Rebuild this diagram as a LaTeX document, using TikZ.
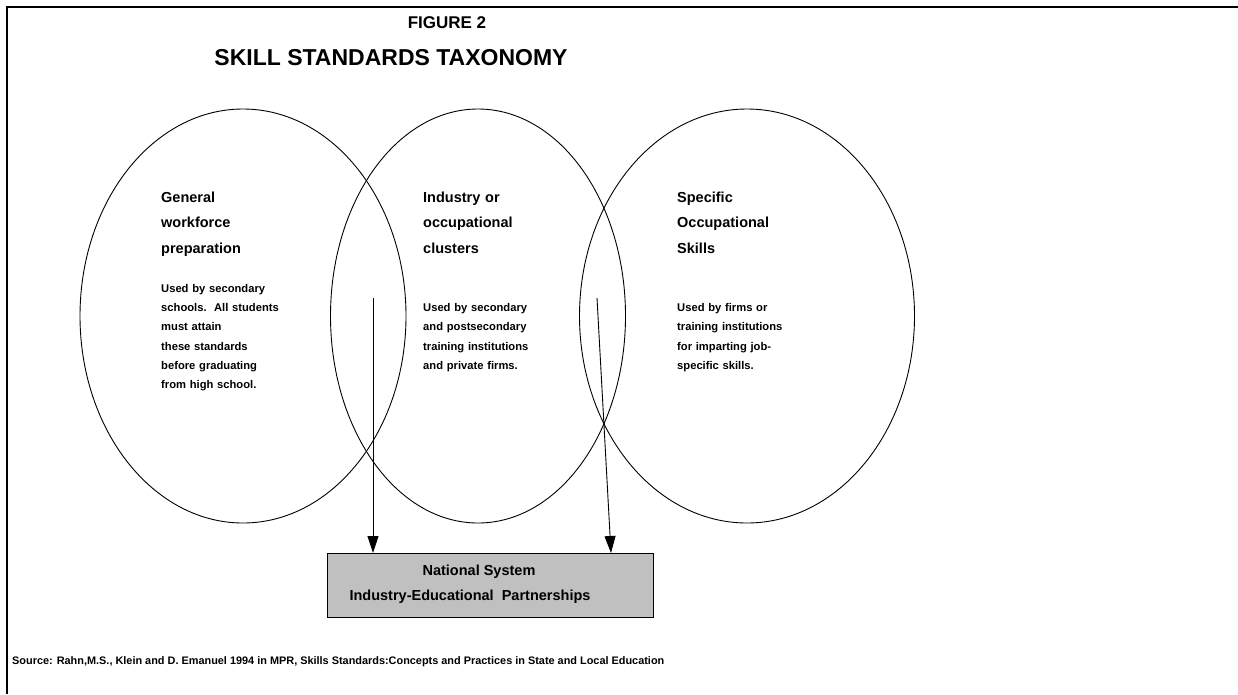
\documentclass[tikz,border=0pt]{standalone}
\usepackage{fontspec}
\setmainfont{Liberation Sans}
\usetikzlibrary{arrows.meta,shapes.geometric}
\begin{document}
\begin{tikzpicture}[x=1pt,y=-1pt,
  ell/.style={draw=black, line width=0.9pt, ellipse, inner sep=0pt},
  head/.style={font=\fontsize{14.5}{25.5}\selectfont\bfseries, anchor=base west, inner sep=0pt, text width=160pt, align=left},
  small/.style={font=\fontsize{11.2}{19.2}\selectfont\bfseries, anchor=base west, inner sep=0pt, text width=160pt, align=left},
  boxtxt/.style={font=\fontsize{14.5}{17}\selectfont\bfseries, anchor=base, inner sep=0pt},
  arr/.style={line width=0.9pt, -{Triangle[length=17pt,width=11pt]}},
  frame/.style={line width=2.5pt},
]
\useasboundingbox (0,0) rectangle (1238,694);
\draw[frame] (7,694) -- (7,7) -- (1238,7);

\node[font=\fontsize{17}{20}\selectfont\bfseries, anchor=base] (fig) at (447,28) {FIGURE 2};
\node[font=\fontsize{23}{28}\selectfont\bfseries, anchor=base] (title) at (391,65) {SKILL STANDARDS TAXONOMY};

\node[ell, minimum width=326pt, minimum height=414pt] (e1) at (243,316) {};
\node[ell, minimum width=295pt, minimum height=414pt] (e2) at (478,316) {};
\node[ell, minimum width=335pt, minimum height=414pt] (e3) at (747,316) {};

\node[head] (h1) at (161,202) {General\\workforce\\preparation};
\node[head] (h2) at (423,202) {Industry or\\occupational\\clusters};
\node[head] (h3) at (677,202) {Specific\\Occupational\\Skills};

\node[small] (s1) at (161,292.5) {Used by secondary\\schools.\ \ All students\\must attain\\these standards\\before graduating\\from high school.};
\node[small] (s2) at (423,311.7) {Used by secondary\\and postsecondary\\training institutions\\and private firms.};
\node[small] (s3) at (677,311.7) {Used by firms or\\training institutions\\for imparting job-\\specific skills.};

\node[draw=black, line width=1pt, fill={rgb,255:red,192;green,192;blue,192}, minimum width=326pt, minimum height=64pt, anchor=north west, inner sep=0pt] (box) at (327,553) {};
\node[boxtxt] (b1) at (479,575) {National System};
\node[boxtxt] (b2) at (470,600) {Industry-Educational\ \ Partnerships};

\coordinate (a1) at (373,298);
\coordinate (a2) at (597,298);
\coordinate (t2) at (611,553);
\draw[arr] (a1) -- (a1 |- box.north);
\draw[arr] (a2) -- (t2);

\node[font=\fontsize{10.9}{13}\selectfont\bfseries, anchor=base west, inner sep=0pt] (src) at (12,664) {Source: Rahn,M.S., Klein and D. Emanuel 1994 in MPR, Skills Standards:Concepts and Practices in State and Local Education};
\end{tikzpicture}
\end{document}
